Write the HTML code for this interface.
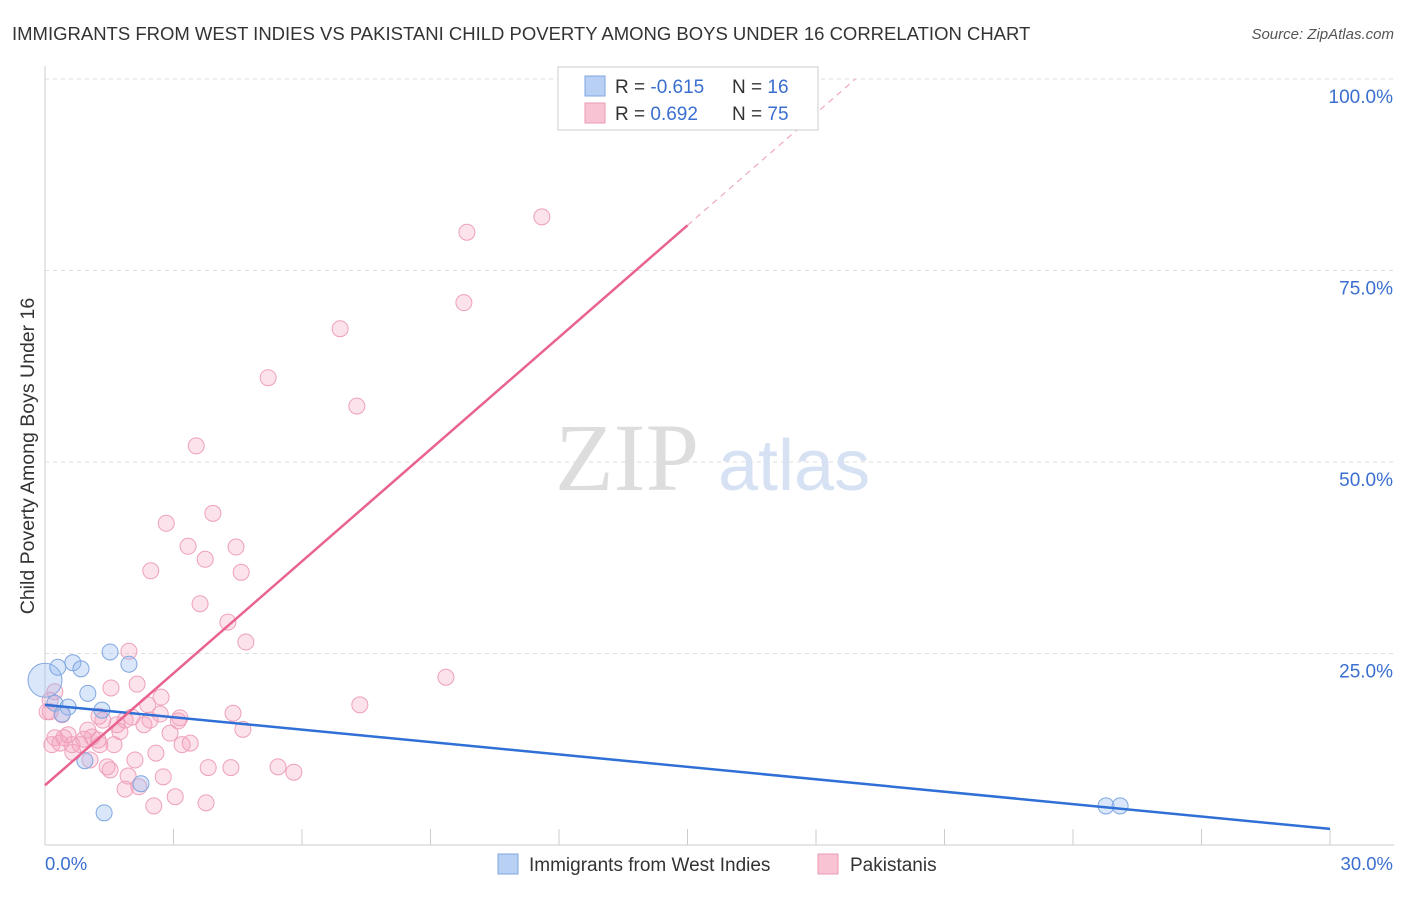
<!DOCTYPE html>
<html><head><meta charset="utf-8"><style>
body{margin:0;background:#fff;font-family:"Liberation Sans",sans-serif;}
</style></head><body>
<svg id="chart" width="1406" height="892" xmlns="http://www.w3.org/2000/svg">
<text x="12" y="40" font-size="18.5" fill="#333">IMMIGRANTS FROM WEST INDIES VS PAKISTANI CHILD POVERTY AMONG BOYS UNDER 16 CORRELATION CHART</text>
<text x="1394" y="39" font-size="15" fill="#555" font-style="italic" text-anchor="end">Source: ZipAtlas.com</text>
<g id="grid"></g>
<text x="555" y="490" font-size="96" fill="#ddd" font-family="Liberation Serif,serif">ZIP</text>
<text x="718" y="490" font-size="72" fill="#d6e2f3">atlas</text>
<text transform="translate(34,456) rotate(-90)" font-size="19.5" fill="#333" text-anchor="middle">Child Poverty Among Boys Under 16</text>
<g id="pts"></g>
<g id="lines"></g>
<g>
<rect x="558" y="67" width="260" height="63" fill="#fff" stroke="#ccc"/>
<rect x="585" y="76" width="20" height="20" fill="#b8d0f4" stroke="#7fa6e0"/>
<rect x="585" y="103" width="20" height="20" fill="#f8c4d4" stroke="#eb9ab4"/>
<text x="615" y="93" font-size="19" fill="#333">R = <tspan fill="#3a6fd0">-0.615</tspan></text>
<text x="732" y="93" font-size="19" fill="#333">N = <tspan fill="#3a6fd0">16</tspan></text>
<text x="615" y="120" font-size="19" fill="#333">R = <tspan fill="#3a6fd0"> 0.692</tspan></text>
<text x="732" y="120" font-size="19" fill="#333">N = <tspan fill="#3a6fd0">75</tspan></text>
</g>
<g>
<rect x="498" y="854" width="20" height="20" fill="#b8d0f4" stroke="#7fa6e0"/>
<text x="529" y="871" font-size="19" fill="#333">Immigrants from West Indies</text>
<rect x="818" y="854" width="20" height="20" fill="#f8c4d4" stroke="#eb9ab4"/>
<text x="850" y="871" font-size="19" fill="#333">Pakistanis</text>
</g>
</svg>
<script>
const yTicks=[25,50,75,100];
const yTickLabels=["25.0%","50.0%","75.0%","100.0%"];
const xTickLabels=["0.0%","30.0%"];
const blueX=[0,0.30,0.65,0.84,1.52,1.96,1.00,0.23,0.54,1.33,0.40,0.93,2.24,1.38,24.77,25.10];
const blueY=[21.5,23.2,23.8,23.0,25.2,23.6,19.8,18.5,18.0,17.6,17.1,11.0,8.0,4.2,5.1,5.1];
const pinkX=[11.60,9.85,9.78,6.89,5.21,7.28,3.53,3.92,2.83,3.34,4.46,3.74,2.47,4.58,3.62,4.27,4.69,1.96,9.36,1.54,2.15,2.71,2.40,7.35,4.39,3.15,2.69,2.03,1.26,1.68,2.31,3.11,4.62,2.92,1.75,1.10,0.91,0.44,0.23,0.63,3.39,3.20,1.61,0.35,0.16,2.59,0.65,1.05,1.45,3.81,4.34,5.44,5.81,1.94,2.76,1.87,2.19,3.04,2.54,3.76,0.23,0.12,0.40,0.82,1.24,1.35,1.87,0.54,1.00,0.12,2.45,2.10,1.52,1.28,0.05];
const pinkY=[82.0,80.0,70.8,67.4,61.0,57.3,52.1,43.3,42.0,39.0,38.9,37.3,35.8,35.6,31.5,29.1,26.5,25.3,21.9,20.5,21.0,19.3,18.3,18.3,17.2,16.6,17.1,16.7,16.8,15.7,15.7,16.2,15.1,14.6,14.8,14.1,13.8,14.0,14.0,13.1,13.3,13.1,13.1,13.3,13.1,12.0,12.1,11.1,10.2,10.1,10.1,10.2,9.5,9.0,8.9,7.3,7.6,6.3,5.1,5.5,20.0,18.9,17.0,13.1,13.7,16.3,16.3,14.4,15.0,17.4,16.3,11.1,9.8,13.1,17.4];
const blueFit=[18.3,2.1];
const pinkFit=[7.8,80.9];
const X0=45,X1=1330,Y0=845,Y100=79;
const sx=v=>X0+(X1-X0)*v/30, sy=v=>Y0-(Y0-Y100)*v/100;
const NS="http://www.w3.org/2000/svg";
function mk(t,a,p){const e=document.createElementNS(NS,t);for(const k in a)e.setAttribute(k,a[k]);p.appendChild(e);return e;}
const grid=document.getElementById('grid');
mk('line',{x1:X0,y1:66,x2:X0,y2:Y0,stroke:'#ccc'},grid);
mk('line',{x1:X0,y1:Y0,x2:1394,y2:Y0,stroke:'#ccc'},grid);
yTicks.forEach((t,i)=>{
 const l=mk('line',{x1:X0,y1:sy(t),x2:1394,y2:sy(t),stroke:'#ddd','stroke-dasharray':'4,4'},grid);
 
 
 const tx=mk('text',{x:1393,y:sy(t)+24,'font-size':19,fill:'#3a6fd0','text-anchor':'end'},grid);
 tx.textContent=yTickLabels[i];
 
 
});
for(let i=1;i<=10;i++){
 const l=mk('line',{x1:sx(i*3),y1:Y0-16,x2:sx(i*3),y2:Y0,stroke:'#ccc'},grid);
 
 
}
const xl0=mk('text',{x:45,y:870,'font-size':18.5,fill:'#3a6fd0'},grid);xl0.textContent=xTickLabels[0];


const xl1=mk('text',{x:1393,y:870,'font-size':18.5,fill:'#3a6fd0','text-anchor':'end'},grid);xl1.textContent=xTickLabels[1];


const pts=document.getElementById('pts');
pinkX.forEach((x,i)=>{
 const c=mk('circle',{cx:sx(x),cy:sy(pinkY[i]),r:8,fill:'rgba(244,160,188,0.3)',stroke:'#eea0ba','stroke-width':1},pts);
 
 
});
blueX.forEach((x,i)=>{
 const c=mk('circle',{cx:sx(x),cy:sy(blueY[i]),r:i==0?17:8,fill:'rgba(150,185,240,0.35)',stroke:'#7fa6e0','stroke-width':1},pts);
 
 
});
const ln=document.getElementById('lines');
const bl=mk('line',{x1:sx(0),y1:sy(blueFit[0]),x2:sx(30),y2:sy(blueFit[1]),stroke:'#2f6fd6','stroke-width':2.5},ln);


const slope=(pinkFit[1]-pinkFit[0])/15;
const pl=mk('line',{x1:sx(0),y1:sy(pinkFit[0]),x2:sx(15),y2:sy(pinkFit[1]),stroke:'#e8638f','stroke-width':2.5},ln);


const xe=(100-pinkFit[0])/slope;
const pd=mk('line',{x1:sx(15),y1:sy(pinkFit[1]),x2:sx(xe),y2:sy(100),stroke:'#f0a8c0','stroke-width':1.2,'stroke-dasharray':'6,5'},ln);


</script>
</body></html>
